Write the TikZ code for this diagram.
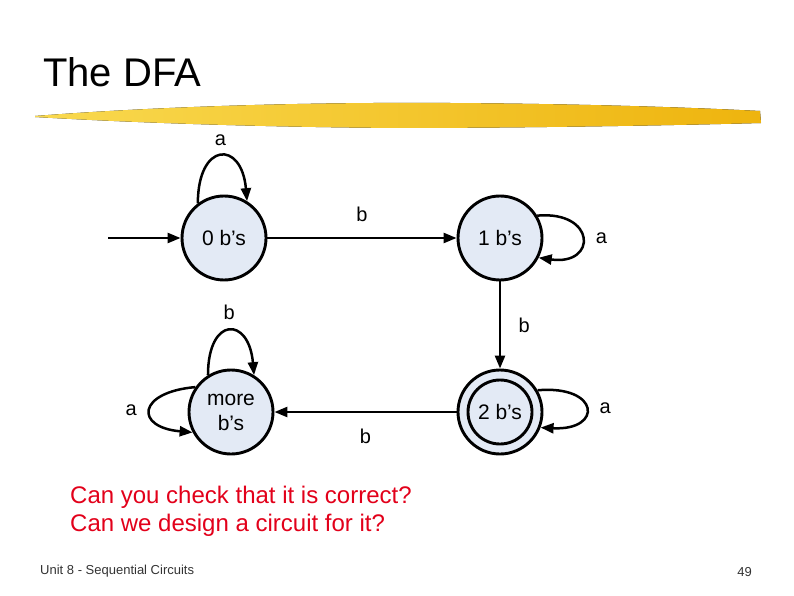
\documentclass[tikz,border=0pt]{standalone}
\usepackage{fontspec}
\setmainfont{Liberation Sans}
\usetikzlibrary{arrows.meta,positioning}
\definecolor{statefill}{HTML}{E3EAF5}
\definecolor{slidered}{HTML}{E2001A}
\definecolor{brush1}{HTML}{F9D94F}
\definecolor{brush2}{HTML}{EEB40E}
\definecolor{footgrey}{HTML}{333333}

\begin{document}
\begin{tikzpicture}[x=1pt,y=1pt,
  state/.style={circle,draw,line width=2.9pt,fill=statefill,minimum size=84pt,inner sep=0pt,font=\fontsize{21}{25}\selectfont,align=center},
  trans/.style={line width=2.5pt,-{Triangle[length=13pt,width=10pt]}},
  lbl/.style={font=\fontsize{20}{22}\selectfont}]
  \useasboundingbox (0,0) rectangle (794,595);
  % slide title with the yellow brush stroke
  \node[anchor=base west,inner sep=0pt,font=\fontsize{40}{44}\selectfont] (title) at (43,508) {The DFA};
  \fill[left color=brush1,right color=brush2] (35,479) .. controls (150,488) and (300,493) .. (450,492) .. controls (600,491) and (700,487) .. (760,484) -- (761,472) .. controls (650,469) and (500,467) .. (400,467) .. controls (250,468) and (120,473) .. (35,478) -- cycle;
  % the four states
  \node[state] (zero) at (224,357) {0 b's};
  \node[state] (one) at (500,357) {1 b's};
  \node[state] (two) at (500,183) {};
  \node[state,minimum size=64pt] (twoin) at (two.center) {2 b's};
  \node[state] (more) at (231,183) {more\\b's};
  \coordinate (start) at (108,357);
  % transitions
  \draw[trans] (start) -- (zero);
  \draw[trans] (zero) -- node[lbl,above=12pt]{b} (one);
  \draw[trans] (one) -- node[lbl,right=14pt]{b} (two);
  \draw[trans] (two) -- node[lbl,below=12pt]{b} (more);
  \draw[trans] (zero.127) to[out=90,in=95,looseness=3.2] node[lbl,above=6pt]{a} (zero.58);
  \draw[trans] (one.31) to[out=5,in=-8,looseness=3.6] node[lbl,right=9pt]{a} (one.-27);
  \draw[trans] (two.30) to[out=5,in=-3,looseness=4.3] node[lbl,right=9pt]{a} (two.-21);
  \draw[trans] (more.122) to[out=90,in=95,looseness=3.3] node[lbl,above=7pt]{b} (more.58);
  \draw[trans] (more.145) to[out=185,in=175,looseness=3.3] node[lbl,left=9pt]{a} (more.208);
  % questions and footer
  \node[anchor=base west,inner sep=0pt,align=left,text=slidered,font=\fontsize{24}{28}\selectfont] (question) at (70,64) {Can you check that it is correct?\\Can we design a circuit for it?};
  \node[anchor=base west,inner sep=0pt,text=footgrey,font=\fontsize{13}{15}\selectfont] (footer) at (40,21) {Unit 8 - Sequential Circuits};
  \node[anchor=base east,inner sep=0pt,text=footgrey,font=\fontsize{13}{15}\selectfont] (page) at (752,19) {49};
\end{tikzpicture}
\end{document}
